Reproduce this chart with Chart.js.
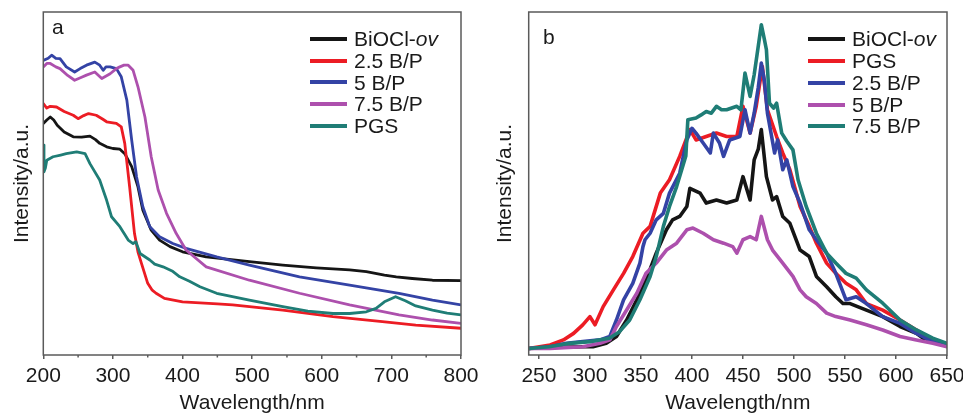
<!DOCTYPE html>
<html><head><meta charset="utf-8">
<script src="https://cdn.jsdelivr.net/npm/chart.js@4.4.0/dist/chart.umd.min.js"></script>
<style>
html,body{margin:0;padding:0;background:#fff;}
#wrap{position:relative;width:963px;height:416px;overflow:hidden;font-family:"Liberation Sans",Arial,sans-serif;}
canvas{position:absolute;top:0;}
#ca{left:0;} #cb{left:483px;}
.leg{position:absolute;font-size:21px;line-height:22px;color:#1a1a1a;white-space:nowrap;}
.sw{position:absolute;width:37px;height:4px;}
</style></head><body>
<div id="wrap">
<canvas id="ca" width="480" height="416"></canvas>
<canvas id="cb" width="480" height="416"></canvas>
</div>
<script>
// ---------- Panel a : absorption ----------
const aTicks = [200, 300, 400, 500, 600, 700, 800];
const aMinorTicks = [250, 350, 450, 550, 650, 750];
const aLabels = ['BiOCl-ov', '2.5 B/P', '5 B/P', '7.5 B/P', 'PGS'];

const aBiOClNm  = [200,205,210,215,220,230,243,255,267,275,281,291,300,310,317,327,336,343,355,367,382,400,434,496,544,592,640,664,690,707,730,759,800];
const aBiOClInt = [67.5,68.5,69.4,68.5,67,65,63.6,63.5,63.8,62.8,61.7,60.7,60.2,60.0,58.7,54.9,49,42.2,36.4,33.5,31.6,30.1,28.6,27.2,26.2,25.4,24.8,24.3,23.3,22.8,22.3,21.8,21.7];

const a25Nm  = [200,205,210,219,230,243,250,258,265,276,285,291,300,305,312,317,324,331,336,341,350,356,362,374,400,450,472,544,616,687,735,800];
const a25Int = [73.3,72,72.5,72.3,71,69.9,68.9,69.8,70.4,69.9,68.8,68,67.7,67.5,66.5,61.7,49,35.4,30,26.7,20.9,19,18,16.5,15.5,14.9,14.6,13.1,11.2,9.7,8.7,7.8];

const a5Nm  = [200,207,212,218,224,233,245,253,262,274,281,286,290,296,305,312,320,327,334,343,353,367,386,405,449,496,568,640,711,759,800];
const a5Int = [85.9,86.5,87.4,86.5,86.4,84,82.5,83.5,84.5,85.4,84.5,83,84,84,83.5,81.1,74.3,62.6,51.9,43.2,37.4,34.5,32.5,31.1,28.6,26.2,22.8,20.4,18,16,14.6];

const a75Nm  = [200,205,210,218,224,235,245,255,262,274,284,296,305,310,316,322,329,336,346,355,365,377,391,405,434,496,568,640,711,759,800];
const a75Int = [84,85,85,84,83.5,81.5,80.1,81,81.6,82.5,80.6,82,83.5,84,84.5,84.5,83,78.2,69.4,57.8,48.1,41.3,35.4,30.6,25.7,21.8,18,14.6,11.7,10.2,9.2];

const aPGSNm  = [200,201,203,205,214,225,233,248,260,267,281,291,298,310,322,329,333,339,353,360,372,385,396,410,425,449,496,544,580,616,640,664,678,690,706,720,735,759,780,800];
const aPGSInt = [61.2,53.4,54.5,56.8,57.8,58.3,58.7,59.2,58.7,55.8,51,45.1,40.3,37.4,33.5,32.5,33.0,29.6,27.7,26.5,25.7,24.5,22.8,21.5,19.9,18,16,14.1,12.8,12.1,12.1,12.6,13.6,15.5,17,15.8,14.3,13.1,12.2,11.7];

// ---------- Panel b : photoluminescence ----------
const bTicks = [250, 300, 350, 400, 450, 500, 550, 600, 650];
const bLabels = ['BiOCl-ov', 'PGS', '2.5 B/P', '5 B/P', '7.5 B/P'];

const bBiOClNm  = [240,261,293,303,316,326,336,346,355,365,375,381,388,395,398,408,414,424,434,444,450,457,461,465,468,473,479,483,489,496,506,515,522,532,541,548,555,571,587,604,620,629,640,650];
const bBiOClInt = [1.9,2.2,2.4,2.4,3.4,5.4,10.2,16.1,21.9,29.7,36.5,39.4,40.4,43.3,48.6,47.2,44.3,45.2,44.3,45.2,52,45.2,56.9,60,65.7,52,45.2,46.2,40.4,38.4,30.6,28.7,22.9,19.9,17,15,15,13.1,11.2,8.3,6.3,4.4,3.4,2.9];

const bPGSNm  = [240,261,274,284,293,300,305,313,323,333,342,352,359,369,378,388,398,404,414,424,434,444,450,457,463,469,474,483,489,496,506,515,522,532,541,551,561,571,587,604,620,636,650];
const bPGSInt = [1.9,2.9,4.4,6.3,8.8,11.2,8.8,14.1,19,23.8,28.7,35.5,37.5,47.2,51.1,57.9,65.7,62.7,63.7,64.7,63.7,63.7,72.5,64.7,72.5,84.1,71.5,63.7,58.9,54,43.3,37.5,32.6,26.8,23.8,20.9,19,15,13.1,10.2,7.3,4.4,2.9];

const b25Nm  = [240,261,277,293,310,319.5,326,333,342,349,352,354,359,365,372,378,388,395,400,404,411,418,421,427,431,437,447,452,457,461,465,468,471,474,481,484,489,493,499,506,515,522,532,541,551,561,571,587,604,620,636,650];
const b25Int = [1.9,2.4,3.4,3.9,4.4,5.4,10.2,16.1,20.9,26.8,31.6,33.6,35.5,39.4,41.3,47.2,53,62.7,66.1,64.7,61.8,58.9,64.7,61.8,57.9,62.7,63.7,71.5,64.7,70.5,78,85.1,80,70.5,58.9,62.7,54,56.9,49.1,44.3,36.5,33.6,29.7,23.8,16.1,17,15,11.2,9.2,6.3,3.9,2.9];

const b5Nm  = [240,261,293,310,319.5,326,336,346,355,365,375,385,395,401,411,421,431,440,444,450,457,463,468,474,479,489,499,506,512,522,532,541,555,571,587,604,620,636,650];
const b5Int = [1.9,1.9,2.4,3.4,4.4,8.3,13.1,18,23.8,26.8,30.6,32.6,36.5,37,35.5,33.6,32.6,31.6,29.7,33.6,34.5,33.6,40.4,33.6,30.6,26.8,22.9,19,17,15,12.2,11.2,10.2,8.8,7.3,5.4,4.4,3.4,2.4];

const b75Nm  = [240,260,280,300,319,329,339,349,359,365,372,378,385,391,394,396,404,409,414,419,424,429,434,439,444,448,452,457,461,465,468,471,473,476,480,483,488,493,499,504,512,522,532,541,551,561,571,587,604,620,636,650];
const b75Int = [1.9,2.4,3.4,3.9,4.9,6.8,10.2,16.1,22.9,28.7,37.5,43.3,49.1,55,58,68.6,69.1,70,71,70.5,72.5,71.5,71.5,72,72.5,71.5,82.2,75.4,81.7,90,96.3,92,89,73.4,72,73.4,64.7,62.3,59.8,51.1,43.3,35.5,29.7,26.8,23.8,22.4,19,15.1,10.2,7.3,4.9,3.4];

// ---------- styling ----------
const COL = {black:'#151515', red:'#ec1c24', blue:'#3443a5', magenta:'#ad50ad', teal:'#1f7d76'};
const FONT = 'Liberation Sans';
const TXT = '#1a1a1a';
const AXC = '#5a5a5a';

function pts(xs, ys){ return xs.map((x,i)=>({x:x, y:ys[i]})); }

function makeDatasets(list, width){
  return list.map((s,i)=>({
    label: s.label, data: pts(s.x, s.y), borderColor: s.color, backgroundColor: s.color,
    borderWidth: width, pointRadius: 0, tension: 0, fill: false, order: list.length - i,
    borderJoinStyle: 'round', borderCapStyle: 'round'
  }));
}

const framePlugin = {
  id: 'frame',
  afterDatasetsDraw(chart, args, opts){
    const {ctx, chartArea: a} = chart;
    ctx.save();
    ctx.strokeStyle = AXC; ctx.lineWidth = 1.5;
    ctx.strokeRect(a.left, a.top, a.right - a.left, a.bottom - a.top);
    const xs = chart.scales.x;
    (opts.minor || []).forEach(v=>{
      const px = xs.getPixelForValue(v);
      ctx.beginPath(); ctx.moveTo(px, a.bottom); ctx.lineTo(px, a.bottom + 2.5); ctx.stroke();
    });
    ctx.fillStyle = TXT; ctx.font = '21px "' + FONT + '"';
    ctx.textBaseline = 'alphabetic';
    ctx.fillText(opts.letter, opts.lx, opts.ly);
    ctx.restore();
  }
};

function makeChart(id, cfg){
  return new Chart(document.getElementById(id), {
    type: 'line',
    data: { datasets: makeDatasets(cfg.series, cfg.lineWidth) },
    plugins: [framePlugin],
    options: {
      responsive: false, animation: false, devicePixelRatio: 1,
      layout: { padding: { left: 0, right: cfg.padRight, top: 12, bottom: 0 } },
      plugins: {
        legend: { display: false }, tooltip: { enabled: false },
        frame: { minor: cfg.minor, letter: cfg.letter, lx: cfg.lx, ly: cfg.ly }
      },
      scales: {
        x: {
          type: 'linear', min: cfg.xmin, max: cfg.xmax,
          afterBuildTicks: (s)=>{ s.ticks = cfg.ticks.map(v=>({value:v})); },
          afterFit: (s)=>{ s.height = 61; s.paddingLeft = 0; s.paddingRight = 0; },
          ticks: { autoSkip: false, maxRotation: 0, padding: 5, color: TXT,
                   font: { family: FONT, size: 21 }, callback: (v)=>String(v) },
          grid: { display: true, drawOnChartArea: false, drawTicks: true, tickLength: 4, color: AXC, lineWidth: 1.5 },
          border: { display: false },
          title: { display: true, text: 'Wavelength/nm', color: TXT, font: { family: FONT, size: 21 }, padding: { top: 0, bottom: 0 } }
        },
        y: {
          min: 0, max: 100,
          afterFit: (s)=>{ s.width = cfg.yWidth; s.paddingTop = 0; s.paddingBottom = 0; },
          ticks: { display: false },
          grid: { display: false },
          border: { display: false },
          title: { display: true, text: 'Intensity/a.u.', color: TXT, font: { family: FONT, size: 21 }, padding: { top: 10, bottom: 10 } }
        }
      }
    }
  });
}

makeChart('ca', {
  series: [
    {label: aLabels[0], x: aBiOClNm, y: aBiOClInt, color: COL.black},
    {label: aLabels[1], x: a25Nm, y: a25Int, color: COL.red},
    {label: aLabels[2], x: a5Nm, y: a5Int, color: COL.blue},
    {label: aLabels[3], x: a75Nm, y: a75Int, color: COL.magenta},
    {label: aLabels[4], x: aPGSNm, y: aPGSInt, color: COL.teal}
  ],
  lineWidth: 2.8, padRight: 19, yWidth: 43.3, xmin: 200, xmax: 800,
  ticks: aTicks, minor: aMinorTicks, letter: 'a', lx: 52, ly: 34
});

makeChart('cb', {
  series: [
    {label: bLabels[0], x: bBiOClNm, y: bBiOClInt, color: COL.black},
    {label: bLabels[1], x: bPGSNm, y: bPGSInt, color: COL.red},
    {label: bLabels[2], x: b25Nm, y: b25Int, color: COL.blue},
    {label: bLabels[3], x: b5Nm, y: b5Int, color: COL.magenta},
    {label: bLabels[4], x: b75Nm, y: b75Int, color: COL.teal}
  ],
  lineWidth: 3.6, padRight: 16, yWidth: 45.7, xmin: 240, xmax: 650,
  ticks: bTicks, minor: [], letter: 'b', lx: 60, ly: 44
});

// ---------- HTML legends (allow italic "ov") ----------
function legend(labels, colors, swX, txtX, rows){
  const wrap = document.getElementById('wrap');
  labels.forEach((lab,i)=>{
    const sw = document.createElement('div');
    sw.className = 'sw'; sw.style.left = swX + 'px'; sw.style.top = (rows[i] - 2) + 'px';
    sw.style.background = colors[i];
    wrap.appendChild(sw);
    const t = document.createElement('div');
    t.className = 'leg'; t.style.left = txtX + 'px'; t.style.top = (rows[i] - 10.8) + 'px';
    const m = lab.match(/^(.*-)(ov)$/);
    if (m) { t.textContent = m[1]; const it = document.createElement('i'); it.textContent = m[2]; t.appendChild(it); }
    else t.textContent = lab;
    wrap.appendChild(t);
  });
}
legend(aLabels, [COL.black, COL.red, COL.blue, COL.magenta, COL.teal], 310, 354, [38.5, 60.5, 82.3, 104, 126]);
legend(bLabels, [COL.black, COL.red, COL.blue, COL.magenta, COL.teal], 808, 852, [39, 61, 83, 104.5, 126]);
</script>
</body></html>
